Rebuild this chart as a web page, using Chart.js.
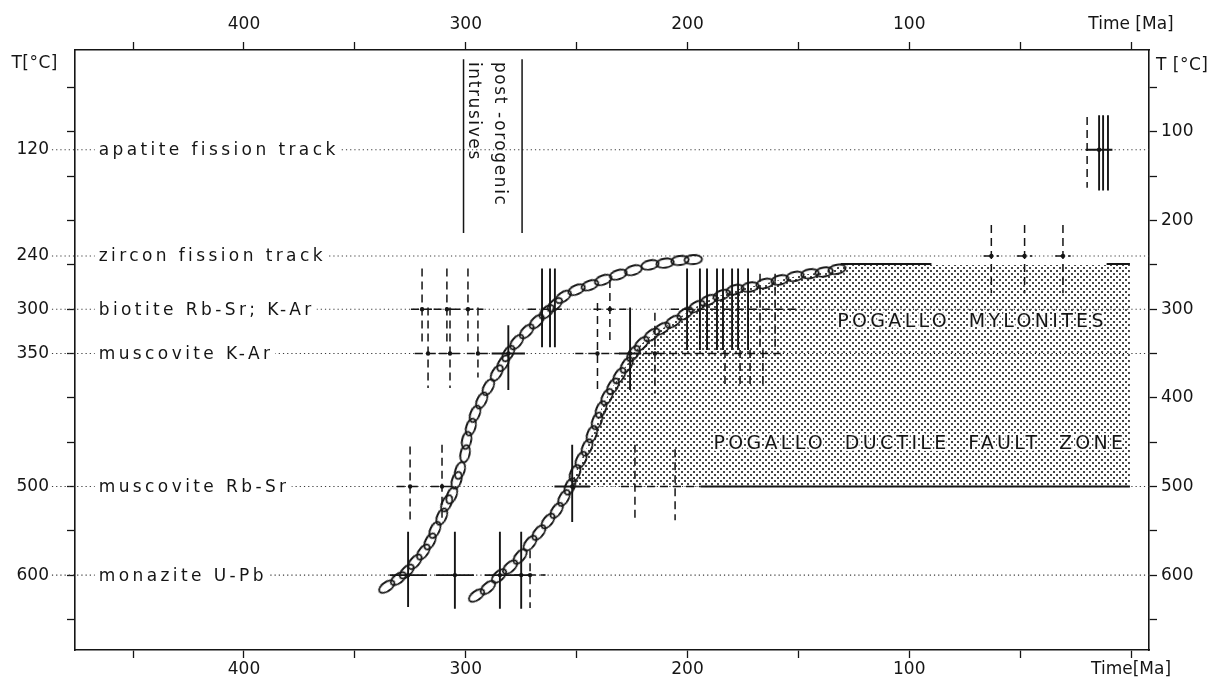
<!DOCTYPE html>
<html>
<head>
<meta charset="utf-8">
<script src="https://cdn.jsdelivr.net/npm/chart.js@4.4.1/dist/chart.umd.min.js"></script>
<style>
  html, body { margin: 0; padding: 0; background: #fff; }
  #wrap { width: 1224px; height: 680px; }
</style>
</head>
<body>
<div id="wrap"><canvas id="chart" width="1224" height="680"></canvas></div>
<script>
// x = age in Ma (axis runs backwards), y = temperature in degC (downwards)
const timeTicks = [0, 50, 100, 150, 200, 250, 300, 350, 400, 450];
const tempTicks = [50, 100, 150, 200, 250, 300, 350, 400, 450, 500, 550, 600, 650];

const rowTemps = [120, 240, 300, 350, 500, 600];
const rowLabels = ['apatite fission track', 'zircon fission track', 'biotite Rb-Sr; K-Ar',
                   'muscovite K-Ar', 'muscovite Rb-Sr', 'monazite U-Pb'];

// age determinations per system: [age Ma, +/- Ma, T top, T bottom, dashed]
const apatiteFT = [
  [19.8, 0, 83, 163, 1],
  [14.4, 6, 81, 166, 0],
  [12.6, 0, 81, 166, 0],
  [10.4, 0, 81, 166, 0]
];
const zirconFT = [
  [63, 3.5, 205, 282, 1],
  [48, 3.5, 205, 282, 1],
  [30.7, 3.5, 205, 282, 1]
];
const biotite = [
  [319.7, 5, 254, 339, 1],
  [308.5, 6, 254, 339, 1],
  [299, 7, 254, 339, 1],
  [263, 9, 300, 300, 1],
  [265.6, 0, 254, 343, 0],
  [262, 0, 254, 343, 0],
  [259.8, 0, 254, 343, 0],
  [235, 7.4, 267, 335, 1],
  [178.5, 29, 300, 300, 1],
  [200.2, 0, 254, 346, 0],
  [194.4, 0, 254, 346, 0],
  [191.2, 0, 254, 346, 0],
  [186.7, 0, 254, 346, 0],
  [184, 0, 254, 346, 0],
  [179.9, 0, 254, 346, 0],
  [177.2, 0, 254, 346, 0],
  [172.7, 0, 254, 346, 0],
  [167.3, 0, 260, 346, 1],
  [160.5, 0, 260, 346, 1]
];
const muscoviteKAr = [
  [317, 6, 298, 389, 1],
  [307.1, 5, 298, 389, 1],
  [294.5, 5, 298, 377, 1],
  [280.8, 7.5, 318, 391, 0],
  [240.6, 10, 293, 391, 1],
  [225.9, 5, 298, 391, 0],
  [214.7, 5, 304, 395, 1],
  [189, 31, 350, 350, 1],
  [183.1, 0, 346, 389, 1],
  [176.3, 0, 346, 389, 1],
  [171.8, 0, 346, 389, 1],
  [166, 0, 346, 389, 1]
];
const muscoviteRbSr = [
  [325.1, 6, 455, 538, 1],
  [310.7, 5, 453, 538, 1],
  [252, 8, 453, 540, 0],
  [212, 18, 500, 500, 1],
  [223.7, 0, 453, 538, 1],
  [205.6, 0, 458, 538, 1]
];
const monaziteUPb = [
  [326, 8.4, 551, 636, 0],
  [304.9, 8.6, 551, 638, 0],
  [284.6, 6.8, 551, 638, 0],
  [275, 4, 551, 638, 0],
  [271, 7, 572, 637, 1]
];
const crossRows = [apatiteFT, zirconFT, biotite, muscoviteKAr, muscoviteRbSr, monaziteUPb];

// cooling paths drawn as chains of ovals: [age Ma, T]
const coolingPathA = [
  [335.6, 613], [330.4, 604], [326.6, 596], [322.9, 585], [319.1, 574], [316.1, 562],
  [313.9, 549], [310.8, 534], [308.6, 519], [306.3, 510], [304.1, 493], [302.6, 482],
  [300.3, 463], [299.6, 448], [297.7, 433], [295.8, 418], [292.8, 403], [289.8, 388],
  [286, 372], [283.1, 361], [280.8, 350], [277, 337], [272.5, 325], [268, 314],
  [263.5, 303], [259.8, 295], [256, 286], [250, 278], [244, 273], [238, 267],
  [231.2, 261], [224.4, 256], [216.9, 250], [210.1, 248], [203.4, 245], [197.4, 244]
];
const coolingPathB = [
  [295.1, 623], [290, 614], [285, 601], [280, 591], [275.5, 579], [271, 564],
  [267, 552], [262.9, 539], [259, 527], [255.7, 513], [253, 500], [250.7, 485],
  [248, 470], [245.3, 456], [243.1, 441], [240.8, 426], [239, 413], [236.3, 399],
  [233.6, 387], [230.7, 375], [227.4, 363], [224.4, 350], [220.7, 339], [216.1, 329],
  [211.6, 322], [206.4, 314], [201.1, 305], [195.9, 297], [190.6, 290], [184.6, 284],
  [178.6, 278], [171.8, 275], [165.1, 271], [158.3, 267], [151.5, 263], [144.8, 260],
  [138.4, 258], [132.6, 255]
];

// Pogallo ductile fault zone: upper boundary [age Ma, T], base at 500 degC
const faultZoneTop = [
  [252.5, 500], [250.7, 485], [248, 470], [245.3, 456], [243.1, 441], [240.8, 426],
  [239, 413], [236.3, 399], [233.6, 387], [230.7, 375], [227.4, 363], [224.4, 350],
  [220.7, 339], [216.1, 329], [211.6, 322], [206.4, 314], [201.1, 305], [195.9, 297],
  [190.6, 290], [184.6, 284], [178.6, 278], [171.8, 275], [165.1, 271], [158.3, 267],
  [151.5, 263], [144.8, 260], [138.4, 258], [132, 252], [125, 250], [0.5, 250]
];
const faultZoneBase = 500;
const zoneBaseEdge = [194, 0.5];
const zoneTopEdges = [[131, 90], [11, 0.5]];
const zoneTopTemp = 249;

// post-orogenic intrusives bracket
const intrusiveAges = [301, 274.6];
const intrusiveTemps = [18, 214];

const FONT = '"DejaVu Sans", sans-serif';
const INK = '#151515';

const cvs = document.getElementById('chart');
const c2d = cvs.getContext('2d');

function makeStipple() {
  const tile = document.createElement('canvas');
  tile.width = 6; tile.height = 6;
  const g = tile.getContext('2d');
  g.fillStyle = '#444';
  g.fillRect(0, 0, 2, 2);
  g.fillRect(3, 3, 2, 2);
  return c2d.createPattern(tile, 'repeat');
}

function makeOval() {
  const c = document.createElement('canvas');
  c.width = 22; c.height = 13;
  const g = c.getContext('2d');
  g.strokeStyle = INK;
  g.lineWidth = 1.8;
  g.beginPath();
  g.ellipse(11, 6.5, 8.8, 4.5, 0, 0, Math.PI * 2);
  g.stroke();
  return c;
}
const ovalSprite = makeOval();

function crossSegments(dashed) {
  const pts = [];
  crossRows.forEach((row, r) => {
    const t = rowTemps[r];
    row.filter(c => !!c[4] === dashed).forEach(([age, err, top, bot]) => {
      if (err > 0) pts.push({x: age + err, y: t}, {x: age - err, y: t}, {x: age, y: null});
      if (top !== bot) pts.push({x: age, y: top}, {x: age, y: bot}, {x: age, y: null});
    });
  });
  return pts;
}

function crossCentres() {
  const pts = [];
  crossRows.forEach((row, r) => {
    row.forEach(([age, err, top, bot]) => {
      if (err > 0 && top !== bot) pts.push({x: age, y: rowTemps[r]});
    });
  });
  return pts;
}

function ovalAngle(ctx) {
  const d = ctx.dataset.data, i = ctx.dataIndex;
  const a = d[Math.max(0, i - 1)], b = d[Math.min(d.length - 1, i + 1)];
  const xs = ctx.chart.scales.x, ys = ctx.chart.scales.y;
  const dx = xs.getPixelForValue(b.x) - xs.getPixelForValue(a.x);
  const dy = ys.getPixelForValue(b.y) - ys.getPixelForValue(a.y);
  return Math.atan2(dy, dx) * 180 / Math.PI;
}

const rowLines = [];
rowTemps.forEach(t => rowLines.push({x: 486.6, y: t}, {x: -8.1, y: t}, {x: -8.1, y: null}));

const zoneEdges = [];
zoneEdges.push({x: zoneBaseEdge[0], y: faultZoneBase}, {x: zoneBaseEdge[1], y: faultZoneBase}, {x: 0, y: null});
zoneTopEdges.forEach(([a, b]) => zoneEdges.push({x: a, y: zoneTopTemp}, {x: b, y: zoneTopTemp}, {x: b, y: null}));

const intrusiveLines = [];
intrusiveAges.forEach(a => intrusiveLines.push({x: a, y: intrusiveTemps[0]}, {x: a, y: intrusiveTemps[1]}, {x: a, y: null}));

const lineBase = { pointRadius: 0, tension: 0, fill: false, spanGaps: false };

const datasets = [
  Object.assign({}, lineBase, {
    label: 'fault zone', order: 10,
    data: faultZoneTop.map(p => ({x: p[0], y: p[1]})),
    fill: {value: faultZoneBase}, backgroundColor: makeStipple(),
    borderColor: 'rgba(0,0,0,0)', borderWidth: 1
  }),
  Object.assign({}, lineBase, {
    label: 'rows', order: 9, data: rowLines, clip: false,
    borderColor: '#3a3a3a', borderWidth: 1.1, borderDash: [1.2, 3]
  }),
  Object.assign({}, lineBase, {
    label: 'zone edges', order: 8, data: zoneEdges,
    borderColor: INK, borderWidth: 2
  }),
  Object.assign({}, lineBase, {
    label: 'intrusives', order: 8, data: intrusiveLines,
    borderColor: INK, borderWidth: 1.5
  }),
  Object.assign({}, lineBase, {
    label: 'dashed ages', order: 6, data: crossSegments(true),
    borderColor: INK, borderWidth: 1.5, borderDash: [8, 5]
  }),
  Object.assign({}, lineBase, {
    label: 'solid ages', order: 5, data: crossSegments(false),
    borderColor: INK, borderWidth: 1.9
  }),
  {
    label: 'centres', order: 4, data: crossCentres(), showLine: false,
    pointRadius: 2.2, pointBackgroundColor: INK, pointBorderWidth: 0
  },
  {
    label: 'path A', order: 1, showLine: false,
    data: coolingPathA.map(p => ({x: p[0], y: p[1]})),
    pointStyle: ovalSprite, pointRadius: 6, pointRotation: ovalAngle
  },
  {
    label: 'path B', order: 1, showLine: false,
    data: coolingPathB.map(p => ({x: p[0], y: p[1]})),
    pointStyle: ovalSprite, pointRadius: 6, pointRotation: ovalAngle
  }
];

const tickFont = { family: FONT, size: 17 };

function timeAxis(position, zeroLabel, height, pad) {
  return {
    type: 'linear', position: position, reverse: true, min: -8.1, max: 476.2,
    afterBuildTicks: s => { s.ticks = timeTicks.map(v => ({value: v})); },
    afterFit: s => { s.height = height; },
    ticks: {
      autoSkip: false, maxRotation: 0, padding: pad, font: tickFont, color: INK,
      callback: v => v === 0 ? zeroLabel : (v % 100 === 0 ? String(v) : '')
    },
    grid: { drawOnChartArea: false, tickLength: 8, tickColor: INK, tickWidth: 1.3 },
    border: { color: INK, width: 1.6 }
  };
}

function tempAxis(position, values, show, pad, dotted) {
  return {
    type: 'linear', position: position, reverse: true, min: 7.5, max: 684.5,
    afterBuildTicks: s => { s.ticks = values.map(v => ({value: v})); },
    afterFit: s => { s.width = 75; },
    ticks: {
      autoSkip: false, padding: pad, font: tickFont, color: INK,
      callback: v => show(v) ? String(v) : ''
    },
    grid: {
      drawOnChartArea: false, tickLength: 8, tickWidth: 1.3,
      tickColor: c => dotted.includes(c.tick.value) ? 'rgba(0,0,0,0)' : INK
    },
    border: { color: INK, width: 1.6 }
  };
}

const leftTicks = tempTicks.concat([120, 240]).sort((a, b) => a - b);

const annotations = {
  id: 'annotations',
  afterDatasetsDraw(chart) {
    const {ctx, scales: {x, y}} = chart;
    ctx.save();
    ctx.textBaseline = 'middle';
    ctx.textAlign = 'left';

    // row labels on white, over the dotted leaders
    ctx.font = '17px ' + FONT;
    ctx.letterSpacing = '3.4px';
    rowLabels.forEach((txt, i) => {
      const px = x.getPixelForValue(465.5), py = y.getPixelForValue(rowTemps[i]);
      const w = ctx.measureText(txt).width;
      ctx.fillStyle = '#fff';
      ctx.fillRect(px - 4, py - 10, w + 6, 20);
      ctx.fillStyle = INK;
      ctx.fillText(txt, px, py + 1);
    });

    // rotated bracket text
    ctx.font = '17px ' + FONT;
    ctx.letterSpacing = '1.6px';
    [['post -orogenic', 284.6], ['intrusives', 296.7]].forEach(([txt, age]) => {
      ctx.save();
      ctx.translate(x.getPixelForValue(age), y.getPixelForValue(21));
      ctx.rotate(Math.PI / 2);
      ctx.fillStyle = INK;
      ctx.fillText(txt, 0, 0);
      ctx.restore();
    });

    // fault zone captions with a white halo
    ctx.font = '19px ' + FONT;
    ctx.letterSpacing = '3.3px';
    ctx.textAlign = 'center';
    [['POGALLO  MYLONITES', 71.7, 314.5], ['POGALLO  DUCTILE  FAULT  ZONE', 95.2, 452]].forEach(([txt, age, t]) => {
      const px = x.getPixelForValue(age), py = y.getPixelForValue(t);
      ctx.strokeStyle = 'rgba(255,255,255,0.85)';
      ctx.lineWidth = 4;
      ctx.lineJoin = 'round';
      ctx.strokeText(txt, px, py);
      ctx.fillStyle = INK;
      ctx.fillText(txt, px, py);
    });

    // axis titles
    ctx.letterSpacing = '0.5px';
    ctx.font = '17px ' + FONT;
    ctx.fillStyle = INK;
    ctx.textAlign = 'right';
    ctx.fillText('T[°C]', 58, 64);
    ctx.textAlign = 'left';
    ctx.fillText('T [°C]', 1156, 66);
    ctx.restore();
  }
};

new Chart(cvs, {
  type: 'line',
  data: { datasets: datasets },
  options: {
    responsive: false,
    animation: false,
    events: [],
    layout: { padding: 0 },
    plugins: { legend: { display: false }, tooltip: { enabled: false } },
    scales: {
      x: timeAxis('bottom', 'Time[Ma]', 30, 1),
      x2: timeAxis('top', 'Time [Ma]', 50, 7),
      y: tempAxis('left', leftTicks, v => rowTemps.includes(v), 18, [120, 240]),
      y2: tempAxis('right', tempTicks, v => v % 100 === 0, 4, [])
    }
  },
  plugins: [annotations]
});
</script>
</body>
</html>
